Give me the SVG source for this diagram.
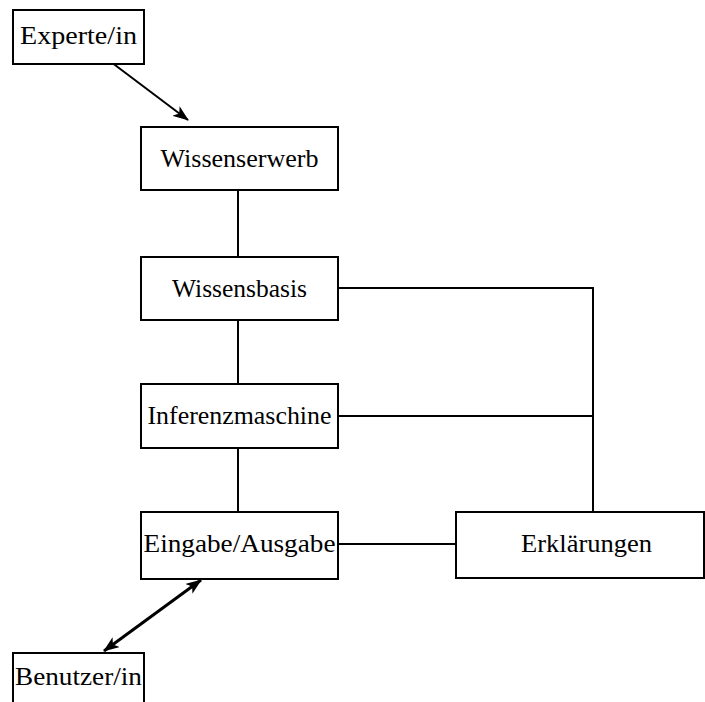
<svg xmlns="http://www.w3.org/2000/svg" width="705" height="702" viewBox="0 0 705 702">
<style>
rect{fill:#fff;stroke:#000;stroke-width:2}
text{font-family:"Liberation Serif",serif;font-size:25px;text-anchor:middle;fill:#000}
.c line,.c polyline{stroke:#000;stroke-width:2;fill:none}
</style>
<defs>
<marker id="ah" viewBox="0 0 16 12" refX="15" refY="6" markerWidth="16" markerHeight="12" markerUnits="userSpaceOnUse" orient="auto-start-reverse">
<path d="M0,0 L16,6 L0,12 L4,6 Z" fill="#000"/>
</marker>
</defs>
<g class="c">
<line x1="111" y1="62" x2="188" y2="120" marker-end="url(#ah)"/>
<line x1="238" y1="190" x2="238" y2="257"/>
<line x1="238" y1="320" x2="238" y2="384"/>
<line x1="238" y1="448" x2="238" y2="512"/>
<polyline points="338,288 593,288 593,512"/>
<line x1="338" y1="416" x2="593" y2="416"/>
<line x1="338" y1="544" x2="456" y2="544"/>
<line x1="104" y1="651" x2="201" y2="580" style="stroke-width:3" marker-start="url(#ah)" marker-end="url(#ah)"/>
</g>
<g id="experte"><rect x="13" y="10" width="131" height="54"/><text x="78.5" y="44" textLength="117" lengthAdjust="spacingAndGlyphs">Experte/in</text></g>
<g id="wissenserwerb"><rect x="141" y="127" width="197" height="63"/><text x="239.5" y="167" textLength="158" lengthAdjust="spacingAndGlyphs">Wissenserwerb</text></g>
<g id="wissensbasis"><rect x="141" y="257" width="197" height="63"/><text x="239.5" y="297" textLength="135" lengthAdjust="spacingAndGlyphs">Wissensbasis</text></g>
<g id="inferenz"><rect x="141" y="384" width="197" height="64"/><text x="239.5" y="424" textLength="184" lengthAdjust="spacingAndGlyphs">Inferenzmaschine</text></g>
<g id="eingabe"><rect x="141" y="512" width="197" height="67"/><text x="239.5" y="552" textLength="192" lengthAdjust="spacingAndGlyphs">Eingabe/Ausgabe</text></g>
<g id="erklaerungen"><rect x="456" y="512" width="248" height="66"/><text x="586.5" y="552" textLength="131" lengthAdjust="spacingAndGlyphs">Erklärungen</text></g>
<g id="benutzer"><rect x="13" y="653" width="131" height="60"/><text x="78.5" y="685" textLength="127" lengthAdjust="spacingAndGlyphs">Benutzer/in</text></g>
</svg>
